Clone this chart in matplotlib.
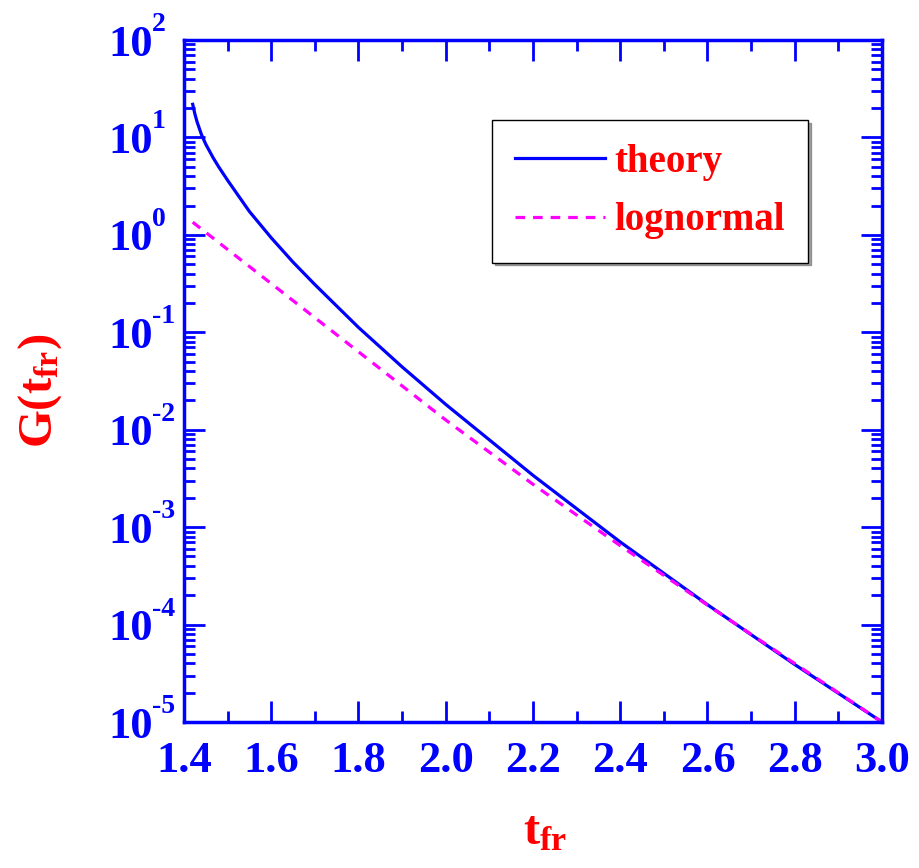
import numpy as np
import matplotlib
matplotlib.use('Agg')
import matplotlib.pyplot as plt
import matplotlib.transforms as mtransforms
from matplotlib.ticker import LogLocator, FuncFormatter, MultipleLocator, NullFormatter

# Values (log10 of G)
x_theory = [1.42, 1.425, 1.43, 1.44, 1.45, 1.467, 1.48, 1.5, 1.55, 1.6, 1.65, 1.7,
            1.8, 1.9, 2.0, 2.2, 2.4, 2.6, 2.8, 3.0]
logG_theory = [1.34, 1.24, 1.16, 1.03, 0.93, 0.79, 0.695, 0.56, 0.24, -0.03, -0.28, -0.51,
               -0.95, -1.355, -1.74, -2.468, -3.152, -3.796, -4.41, -5.0]

x_lognorm = [1.42, 1.6, 1.8, 2.0, 2.2, 2.4, 2.6, 2.8, 3.0]
logG_lognorm = [0.13, -0.50, -1.20, -1.90, -2.56, -3.19, -3.80, -4.40, -5.0]

x_ticks = [1.4, 1.6, 1.8, 2.0, 2.2, 2.4, 2.6, 2.8, 3.0]
x_ticklabels = ['1.4', '1.6', '1.8', '2.0', '2.2', '2.4', '2.6', '2.8', '3.0']
y_decades = [-5, -4, -3, -2, -1, 0, 1, 2]

BLUE = '#0000ff'
RED = '#ff0000'
SERIF = 'Liberation Serif'

plt.rcParams['font.family'] = SERIF
plt.rcParams['font.weight'] = 'bold'

fig = plt.figure(figsize=(9.19, 8.68), dpi=100)
ax = fig.add_axes([0.2002, 0.1682, 0.7595, 0.7857])

# Curves
ax.plot(x_theory, 10 ** np.array(logG_theory), color=BLUE, lw=2.3, label='theory')
ax.plot(x_lognorm, 10 ** np.array(logG_lognorm), color='#ff00ff', lw=2.3,
        ls=(0, (3, 2.5)), label='lognormal')

ax.set_yscale('log')
ax.set_xlim(1.4, 3.0)
ax.set_ylim(1e-5, 1e2)

# Ticks
ax.set_xticks(x_ticks)
ax.set_xticklabels(x_ticklabels)
ax.xaxis.set_minor_locator(MultipleLocator(0.1))
ax.set_yticks([10.0 ** d for d in y_decades])
ax.yaxis.set_minor_locator(LogLocator(base=10, subs=np.arange(2, 10), numticks=20))
ax.yaxis.set_minor_formatter(NullFormatter())
ax.yaxis.set_major_formatter(FuncFormatter(lambda v, p: '10'))

ax.tick_params(which='both', direction='in', color=BLUE, top=True, right=True, width=2)
ax.tick_params(which='major', length=15)
ax.tick_params(which='minor', length=8)
ax.tick_params(axis='x', which='major', labelsize=32, labelcolor=BLUE, pad=14)
ax.tick_params(axis='y', which='major', labelsize=32, labelcolor=BLUE, pad=22)
for lab in ax.get_xticklabels() + ax.get_yticklabels():
    lab.set_fontweight('bold')
    lab.set_family(SERIF)

# exponents of the y tick labels (small, raised, right after "10")
blend = mtransforms.blended_transform_factory(ax.transAxes, ax.transData)
exp_tr = mtransforms.offset_copy(blend, fig=fig, x=-32, y=9, units='dots')
for d in y_decades:
    ax.text(0, 10.0 ** d, str(d), transform=exp_tr, ha='left', va='baseline',
            fontsize=20, fontweight='bold', color=BLUE, clip_on=False)

for sp in ax.spines.values():
    sp.set_color(BLUE)
    sp.set_linewidth(2.5)

# Axis labels
ax.set_xlabel(r'$\mathregular{t_{fr}}$', color=RED, fontsize=35, fontweight='bold')
ax.xaxis.set_label_coords(0.517, -0.13)
ax.xaxis.label.set_va('top')
ax.set_ylabel(r'$\mathregular{G(t_{fr})}$', color=RED, fontsize=35, fontweight='bold')
ax.yaxis.set_label_coords(-0.172, 0.485)

# Legend
leg = ax.legend(loc='upper left', bbox_to_anchor=(0.441, 0.882), fontsize=28,
                frameon=True, fancybox=False, shadow=True, edgecolor='black',
                handlelength=2.3, handletextpad=0.25, borderpad=0.6, labelspacing=0.55,
                borderaxespad=0)
leg.get_frame().set_linewidth(1.0)
for t in leg.get_texts():
    t.set_color(RED)
    t.set_fontweight('bold')

fig.savefig('out.png', dpi=100)
